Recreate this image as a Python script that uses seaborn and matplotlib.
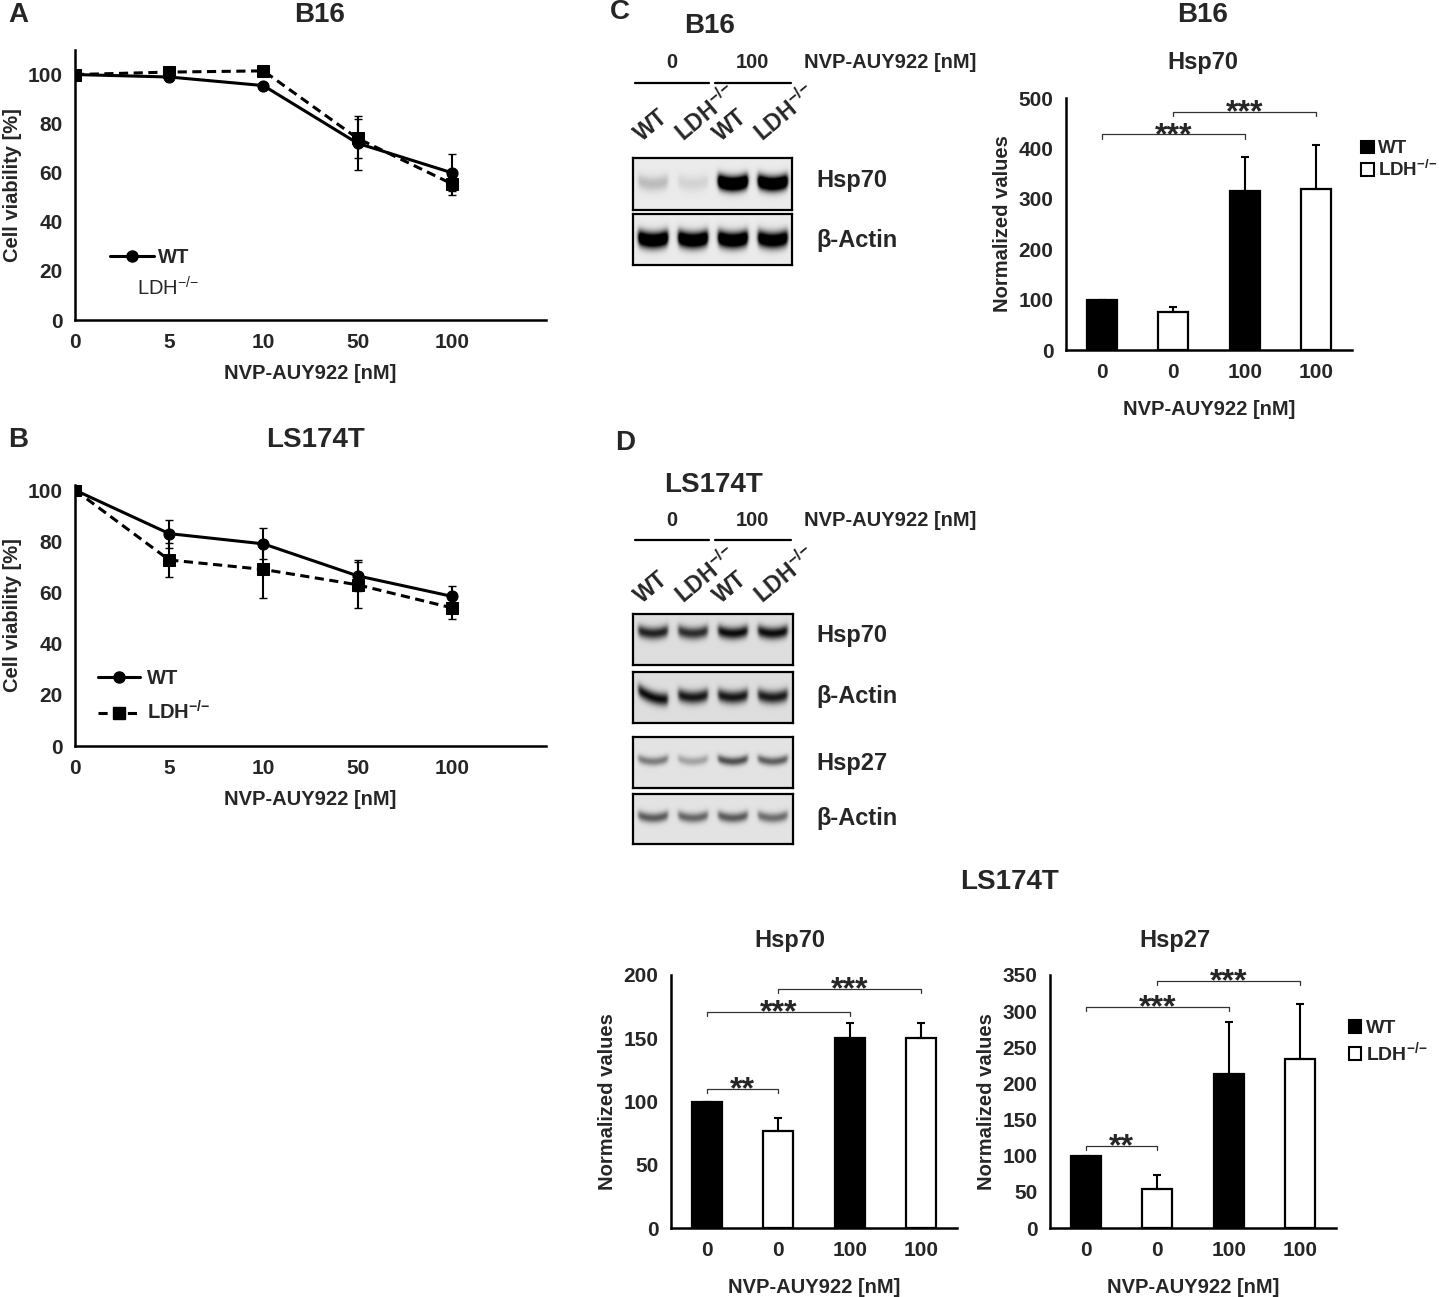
import numpy as np
import pandas as pd
import matplotlib
matplotlib.use("Agg")
import matplotlib.pyplot as plt
import seaborn as sns
from matplotlib.lines import Line2D
from matplotlib.patches import Patch

# Viability curves (A, B)
doses = ["0", "5", "10", "50", "100"]
b16_wt = [100, 99, 95.5, 72, 60]
b16_wt_sd = [0, 0, 0, 11, 7.5]
b16_ldh = [100, 101, 101.5, 74, 55.5]
b16_ldh_sd = [0, 0, 0, 8, 4.5]
ls_wt = [100, 83, 79, 66.5, 58.5]
ls_wt_sd = [0, 5.5, 6, 6, 4]
ls_ldh = [100, 72.7, 69, 63, 54]
ls_ldh_sd = [0, 6.5, 11, 9, 4.5]

# Densitometry bars (C, D)
bar_ids = ["WT 0", "LDH 0", "WT 100", "LDH 100"]
bar_doses = ["0", "0", "100", "100"]
bar_genotype = ["WT", "LDH", "WT", "LDH"]
b16_hsp70 = [100, 76, 316, 319]
b16_hsp70_sd = [0, 10, 66, 88]
ls_hsp70 = [100, 77, 150, 150]
ls_hsp70_sd = [0, 10, 12, 12]
ls_hsp27 = [100, 54, 213, 234]
ls_hsp27_sd = [0, 20, 72, 76]

# significance brackets: (bar i, bar j, height, label)
b16_hsp70_sig = [(0, 2, 428, "***"), (1, 3, 473, "***")]
ls_hsp70_sig = [(0, 1, 110, "**"), (0, 2, 171, "***"), (1, 3, 189, "***")]
ls_hsp27_sig = [(0, 1, 114, "**"), (0, 2, 306, "***"), (1, 3, 342, "***")]

# western blot band intensities per lane (WT 0, LDH 0, WT 100, LDH 100)
b16_blot_hsp70 = [0.2, 0.1, 1.7, 1.6]
b16_blot_actin = [1.5, 1.5, 1.5, 1.4]
ls_blot_hsp70 = [0.85, 0.8, 0.95, 0.95]
ls_blot_actin1 = [0.95, 0.9, 0.9, 0.88]
ls_blot_hsp27 = [0.45, 0.28, 0.65, 0.58]
ls_blot_actin2 = [0.6, 0.55, 0.6, 0.52]

sns.set_style("white")
plt.rcParams["font.family"] = ["Liberation Sans", "DejaVu Sans"]
plt.rcParams["font.weight"] = "bold"
plt.rcParams["axes.labelweight"] = "bold"
plt.rcParams["mathtext.fontset"] = "custom"
plt.rcParams["mathtext.rm"] = "Liberation Sans"
plt.rcParams["mathtext.bf"] = "Liberation Sans:bold"

LDH = r"$\mathregular{LDH^{{-}/{-}}}$"

W, H = 1439, 1297
fig = plt.figure(figsize=(W / 100, H / 100), dpi=100)


def px_axes(left, top, right, bottom):
    return fig.add_axes([left / W, 1 - bottom / H, (right - left) / W, (bottom - top) / H])


def ftext(x, y, s, **kw):
    kw.setdefault("fontweight", "bold")
    fig.text(x / W, 1 - y / H, s, **kw)


def style_axes(ax):
    sns.despine(ax=ax)
    for side in ["left", "bottom"]:
        ax.spines[side].set_linewidth(1.8)
        ax.spines[side].set_color("black")
    ax.tick_params(length=0, labelsize=15, pad=9)
    for lab in ax.get_xticklabels() + ax.get_yticklabels():
        lab.set_fontweight("bold")


def viability_panel(ax, wt, wt_sd, ldh, ldh_sd, ymax):
    df = pd.DataFrame({
        "pos": list(range(len(doses))) * 2,
        "viability": wt + ldh,
        "line": ["WT"] * len(doses) + ["LDH"] * len(doses),
    })
    sns.lineplot(data=df, x="pos", y="viability", style="line",
                 markers={"WT": "o", "LDH": "s"}, dashes={"WT": "", "LDH": (3, 1.8)},
                 color="black", linewidth=2.2, markersize=8, markeredgecolor="black",
                 errorbar=None, legend=False, ax=ax)
    pos = np.arange(len(doses))
    ax.errorbar(pos, wt, yerr=wt_sd, fmt="none", ecolor="black", elinewidth=1.5, capsize=3)
    ax.errorbar(pos, ldh, yerr=ldh_sd, fmt="none", ecolor="black", elinewidth=1.5, capsize=3)
    ax.set_xlim(0, 5)
    ax.set_ylim(0, ymax)
    ax.set_xticks(pos)
    ax.set_xticklabels(doses)
    ax.set_yticks(range(0, 101, 20))
    ax.set_xlabel("NVP-AUY922 [nM]", fontsize=14.5, labelpad=9)
    ax.set_ylabel("Cell viability [%]", fontsize=14.5, labelpad=4)
    style_axes(ax)


def bar_panel(ax, vals, sds, sig, ymax, yticks):
    df = pd.DataFrame({"id": bar_ids, "value": vals, "genotype": bar_genotype})
    sns.barplot(data=df, x="id", y="value", hue="genotype", order=bar_ids,
                palette={"WT": "black", "LDH": "white"}, edgecolor="black", linewidth=1.6,
                width=0.42, dodge=False, legend=False, ax=ax)
    pos = np.arange(len(bar_ids))
    ax.errorbar(pos, vals, yerr=[np.zeros(len(sds)), sds], fmt="none", ecolor="black",
                elinewidth=1.5, capsize=3.2, capthick=1.5)
    tick = 0.018 * ymax
    for i, j, y, label in sig:
        ax.plot([i, i, j, j], [y - tick, y, y, y - tick], color="#333333", lw=0.9)
        ax.annotate(label, xy=((i + j) / 2, y), xytext=(0, -7), textcoords="offset points",
                    ha="center", va="baseline", fontsize=23, fontweight="bold")
    ax.set_xlim(-0.5, 3.5)
    ax.set_ylim(0, ymax)
    ax.set_yticks(yticks)
    ax.set_xticks(pos)
    ax.set_xticklabels(bar_doses)
    ax.set_xlabel("NVP-AUY922 [nM]", fontsize=14.5, labelpad=13)
    ax.set_ylabel("Normalized values", fontsize=14.5, labelpad=5)
    style_axes(ax)


def draw_blot(ax, intensity, band_y, thick, bg, slant=None):
    xs = np.linspace(0, 4, 320)
    ys = np.linspace(0, 1, 100)
    X, Y = np.meshgrid(xs, ys)
    img = np.full(X.shape, bg)
    for i, inten in enumerate(intensity):
        c = i + 0.5
        dx = X - c
        horiz = 1 / (1 + np.exp((np.abs(dx) - 0.37) / 0.025))
        centre = band_y + 0.45 * dx ** 2
        if slant is not None and slant[i]:
            centre = centre - 0.25 * dx
        vert = np.exp(-0.5 * ((Y - centre) / thick) ** 2)
        img = img + (1 - bg) * inten * horiz * vert
    img = np.clip(img, 0, 1)
    ax.imshow(img, extent=[0, 4, 0, 1], origin="lower", aspect="auto", cmap="gray_r",
              vmin=0, vmax=1, interpolation="bilinear")
    ax.set_xticks([])
    ax.set_yticks([])
    for s in ax.spines.values():
        s.set_visible(True)
        s.set_linewidth(1.6)
        s.set_color("black")


def blot_header(y_dose, y_line, y_lanes):
    ftext(672, y_dose, "0", fontsize=14.5, ha="center", va="center")
    ftext(752, y_dose, "100", fontsize=14.5, ha="center", va="center")
    ftext(804, y_dose, "NVP-AUY922 [nM]", fontsize=14.5, ha="left", va="center")
    for x0, x1 in [(635, 709), (715, 791)]:
        fig.add_artist(Line2D([x0 / W, x1 / W], [1 - y_line / H, 1 - y_line / H],
                              color="black", lw=1.6))
    for x, lab in zip([642, 684, 721, 763], ["WT", LDH, "WT", LDH]):
        ftext(x, y_lanes, lab, fontsize=16.5, rotation=40, rotation_mode="anchor",
              ha="left", va="baseline")


# ---- A
ax_a = px_axes(75, 50, 546, 320)
viability_panel(ax_a, b16_wt, b16_wt_sd, b16_ldh, b16_ldh_sd, 110)
ax_a.legend(handles=[Line2D([0], [0], color="black", lw=2.2, marker="o", ms=8)], labels=["WT"],
            loc="center left", bbox_to_anchor=(0.074, 0.23), frameon=False, borderaxespad=0,
            borderpad=0, handlelength=2.2, handletextpad=0.2, prop={"size": 14.5, "weight": "bold"})
ax_a.text(0.132, 0.118, LDH, transform=ax_a.transAxes, fontsize=14.5, fontweight="normal",
          va="center", ha="left")
ftext(8, 15, "A", fontsize=20, va="center")
ftext(320, 15, "B16", fontsize=20, ha="center", va="center")

# ---- B
ax_b = px_axes(75, 485, 546, 746)
viability_panel(ax_b, ls_wt, ls_wt_sd, ls_ldh, ls_ldh_sd, 102)
ax_b.legend(handles=[Line2D([0], [0], color="black", lw=2.2, marker="o", ms=8),
                     Line2D([0], [0], color="black", lw=2.2, marker="s", ms=8, dashes=(3, 1.8))],
            labels=["WT", LDH], loc="center left", bbox_to_anchor=(0.049, 0.19), frameon=False,
            borderaxespad=0, borderpad=0, handlelength=2.1, handletextpad=0.35, labelspacing=0.6,
            prop={"size": 14.5})
for t in ax_b.get_legend().get_texts()[:1]:
    t.set_fontweight("bold")
ftext(8, 440, "B", fontsize=20, va="center")
ftext(315, 440, "LS174T", fontsize=20, ha="center", va="center")

# ---- C blot
ftext(610, 12, "C", fontsize=20, va="center")
ftext(710, 26, "B16", fontsize=20, ha="center", va="center")
blot_header(63, 83, 142)
draw_blot(px_axes(633, 158, 792, 210), b16_blot_hsp70, 0.5, 0.1, 0.08)
draw_blot(px_axes(633, 214, 792, 265), b16_blot_actin, 0.48, 0.11, 0.08)
ftext(816, 181, "Hsp70", fontsize=17, va="center")
ftext(816, 240, "β-Actin", fontsize=17, va="center")

# ---- C bars
ax_c = px_axes(1066, 98, 1352, 350)
bar_panel(ax_c, b16_hsp70, b16_hsp70_sd, b16_hsp70_sig, 500, range(0, 501, 100))
ftext(1203, 15, "B16", fontsize=20, ha="center", va="center")
ftext(1203, 62, "Hsp70", fontsize=17, ha="center", va="center")
bar_handles = [Patch(facecolor="black", edgecolor="black", lw=1.5),
               Patch(facecolor="white", edgecolor="black", lw=1.5)]
fig.legend(handles=bar_handles, labels=["WT", LDH], loc="upper left",
           bbox_to_anchor=(1352 / W, 1 - 131 / H), frameon=False, handlelength=0.65,
           handleheight=0.65, handletextpad=0.25, labelspacing=0.15, borderpad=0,
           prop={"size": 13.5, "weight": "bold"})

# ---- D blot
ftext(615, 443, "D", fontsize=20, va="center")
ftext(713, 485, "LS174T", fontsize=20, ha="center", va="center")
blot_header(520, 540, 604)
draw_blot(px_axes(633, 614, 793, 665), ls_blot_hsp70, 0.62, 0.085, 0.13)
draw_blot(px_axes(633, 672, 793, 723), ls_blot_actin1, 0.5, 0.09, 0.13, slant=[True, False, False, False])
draw_blot(px_axes(633, 737, 793, 788), ls_blot_hsp27, 0.52, 0.06, 0.11)
draw_blot(px_axes(633, 794, 793, 844), ls_blot_actin2, 0.52, 0.07, 0.11)
ftext(816, 635, "Hsp70", fontsize=17, va="center")
ftext(816, 697, "β-Actin", fontsize=17, va="center")
ftext(816, 763, "Hsp27", fontsize=17, va="center")
ftext(816, 819, "β-Actin", fontsize=17, va="center")

# ---- D bars
ftext(1010, 882, "LS174T", fontsize=20, ha="center", va="center")
ax_d1 = px_axes(671, 975, 957, 1228)
bar_panel(ax_d1, ls_hsp70, ls_hsp70_sd, ls_hsp70_sig, 200, range(0, 201, 50))
ftext(790, 940, "Hsp70", fontsize=17, ha="center", va="center")
ax_d2 = px_axes(1050, 975, 1336, 1228)
bar_panel(ax_d2, ls_hsp27, ls_hsp27_sd, ls_hsp27_sig, 350, range(0, 351, 50))
ftext(1175, 940, "Hsp27", fontsize=17, ha="center", va="center")
fig.legend(handles=bar_handles, labels=["WT", LDH], loc="upper left",
           bbox_to_anchor=(1339 / W, 1 - 1010 / H), frameon=False, handlelength=0.65,
           handleheight=0.65, handletextpad=0.25, labelspacing=0.15, borderpad=0,
           prop={"size": 14, "weight": "bold"})

fig.savefig("out.png", dpi=100, facecolor="white")
